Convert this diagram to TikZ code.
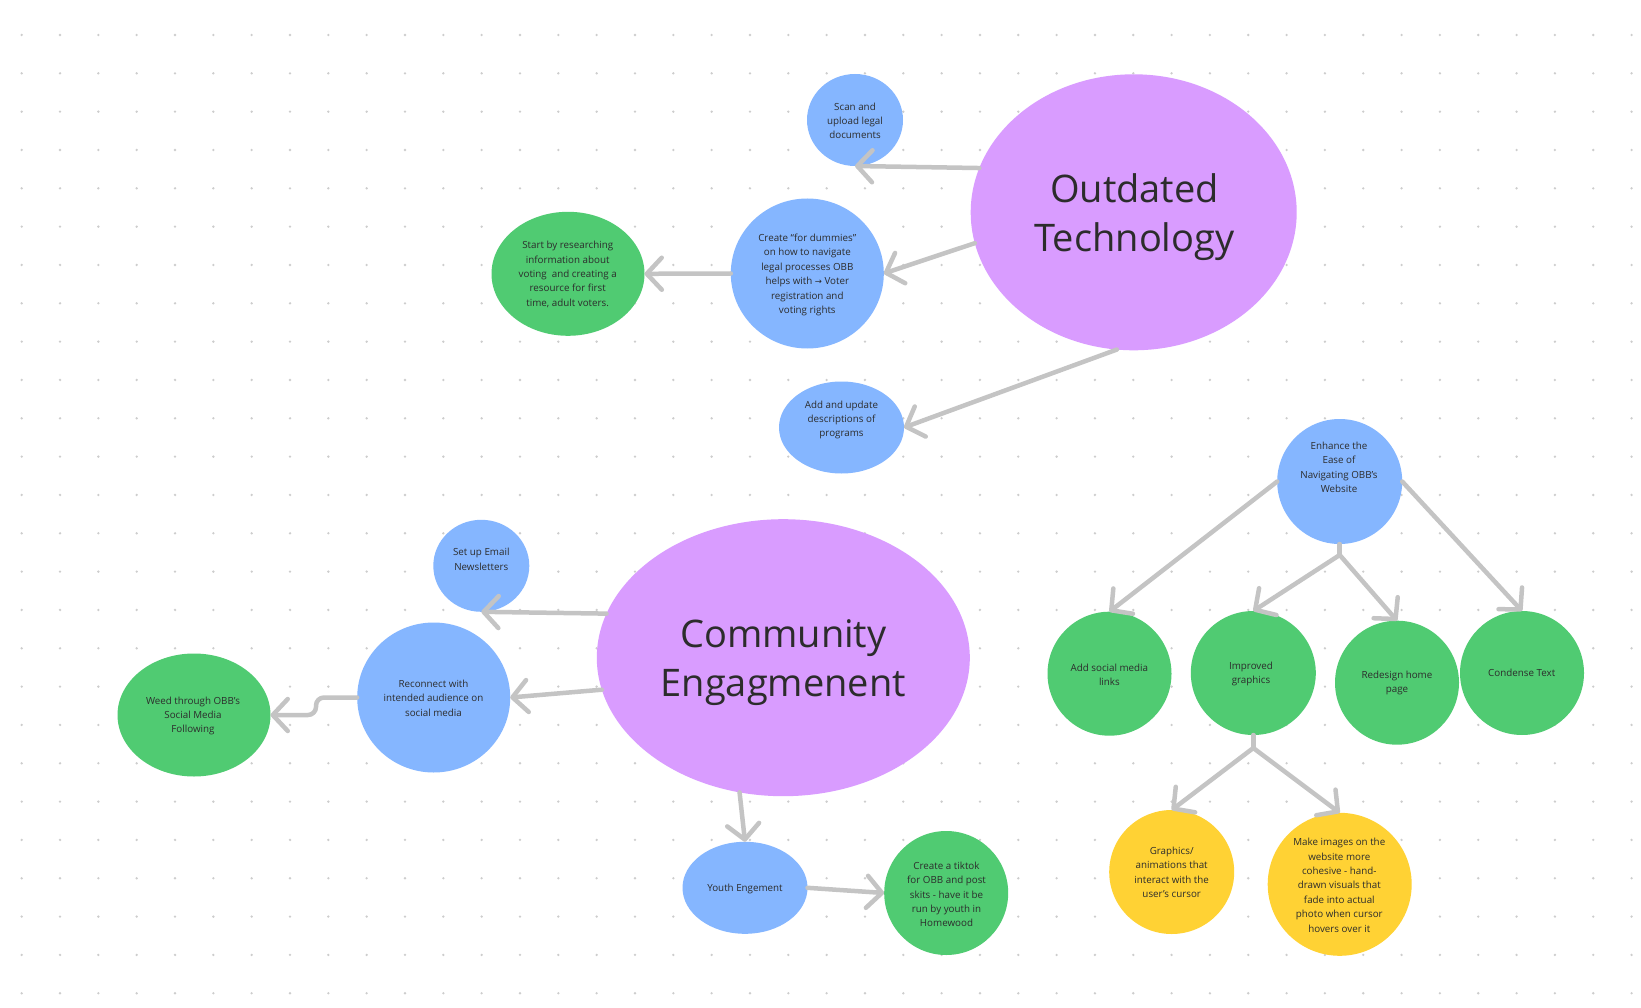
\documentclass[tikz,border=0pt]{standalone}
\usepackage{fontspec}
\setmainfont{Open Sans}
\newfontfamily\symf{DejaVu Sans}
\usetikzlibrary{shapes.geometric,arrows.meta}
\definecolor{purp}{HTML}{D99CFF}
\definecolor{blu}{HTML}{85B6FF}
\definecolor{grn}{HTML}{50CB72}
\definecolor{yel}{HTML}{FFD234}
\definecolor{lgray}{HTML}{C4C4C4}
\definecolor{dotc}{HTML}{CDCDCD}
\definecolor{ink}{HTML}{2C2C2C}
\tikzset{
  blob/.style={ellipse, inner sep=0pt, outer sep=0pt, draw=none},
  txt/.style={font=\fontsize{9.8}{14.4}\selectfont, align=center, text=ink, inner sep=0pt},
  head/.style={font=\fontsize{38}{49}\selectfont, align=center, text=ink, inner sep=0pt},
  conn/.style={draw=lgray, line width=4.5pt, line cap=round, line join=round},
  arr/.style={conn, -{Straight Barb[length=15pt, width=32pt, round]}},
}
\begin{document}
\begin{tikzpicture}[x=1pt, y=-1pt]
\useasboundingbox (0,0) rectangle (1641,1008);
\fill[white] (0,0) rectangle (1641,1008);
\foreach \i in {0,...,42}{
  \foreach \j in {0,...,25}{
    \fill[dotc] ({21.7+38.33*\i},{35+38.33*\j}) circle (1.3);
  }
}
% shapes
\node[blob, fill=purp, minimum width=326pt, minimum height=276pt] (ot) at (1133.7,212.3) {};
\node[blob, fill=purp, minimum width=373pt, minimum height=277pt] (ce) at (783.3,657.7) {};
\node[blob, fill=blu, minimum width=96pt, minimum height=92pt] (scan) at (855,120) {};
\node[blob, fill=blu, minimum width=153pt, minimum height=150pt] (dum) at (807.3,273.5) {};
\node[blob, fill=grn, minimum width=153pt, minimum height=124pt] (start) at (568,273.8) {};
\node[blob, fill=blu, minimum width=125pt, minimum height=92pt] (addup) at (841.5,427.5) {};
\node[blob, fill=blu, minimum width=96pt, minimum height=92pt] (email) at (481.3,565.8) {};
\node[blob, fill=blu, minimum width=153pt, minimum height=150pt] (recon) at (433.7,697.5) {};
\node[blob, fill=grn, minimum width=153pt, minimum height=123pt] (weed) at (194,715) {};
\node[blob, fill=blu, minimum width=125pt, minimum height=92pt] (youth) at (745,887.8) {};
\node[blob, fill=grn, minimum width=124pt, minimum height=124pt] (tiktok) at (946.2,893) {};
\node[blob, fill=blu, minimum width=125pt, minimum height=125pt] (enh) at (1339.7,481.5) {};
\node[blob, fill=grn, minimum width=124pt, minimum height=124pt] (social) at (1109.5,673.7) {};
\node[blob, fill=grn, minimum width=125pt, minimum height=124pt] (impr) at (1253.3,673) {};
\node[blob, fill=grn, minimum width=124pt, minimum height=124pt] (redes) at (1397,682.7) {};
\node[blob, fill=grn, minimum width=124pt, minimum height=124pt] (cond) at (1522,673) {};
\node[blob, fill=yel, minimum width=125pt, minimum height=124pt] (gfx) at (1171.7,872) {};
\node[blob, fill=yel, minimum width=144pt, minimum height=143pt] (mkimg) at (1339.7,884.3) {};
% texts
\node[head] (ot-t) at (1134.5,217) {Outdated\\Technology};
\node[head] (ce-t) at (783.3,662.5) {Community\\Engagmenent};
\node[txt] (scan-t) at (855,120.8) {Scan and\\upload legal\\documents};
\node[txt] (dum-t) at (807.3,275) {Create “for dummies”\\on how to navigate\\legal processes OBB\\helps with {\symf\fontsize{8.5}{14.4}\selectfont →} Voter\\registration and\\voting rights};
\node[txt] (start-t) at (567.7,274.5) {Start by researching\\information about\\voting\ \ and creating a\\resource for first\\time, adult voters.};
\node[txt] (addup-t) at (841.5,420) {Add and update\\descriptions of\\programs};
\node[txt] (email-t) at (481.3,559.5) {Set up Email\\Newsletters};
\node[txt] (recon-t) at (433.5,698.3) {Reconnect with\\intended audience on\\social media};
\node[txt] (weed-t) at (193,716) {Weed through OBB’s\\Social Media\\Following};
\node[txt] (youth-t) at (745,889) {Youth Engement};
\node[txt] (tiktok-t) at (946.5,894.5) {Create a tiktok\\for OBB and post\\skits - have it be\\run by youth in\\Homewood};
\node[txt] (enh-t) at (1339,467.5) {Enhance the\\Ease of\\Navigating OBB’s\\Website};
\node[txt] (social-t) at (1109.4,674.7) {Add social media\\links};
\node[txt] (impr-t) at (1251,673.8) {Improved\\graphics};
\node[txt] (redes-t) at (1397,683) {Redesign home\\page};
\node[txt] (cond-t) at (1521.7,673) {Condense Text};
\node[txt] (gfx-t) at (1171.7,872.3) {Graphics/\\animations that\\interact with the\\user’s cursor};
\node[txt] (mkimg-t) at (1339.3,885.2) {Make images on the\\website more\\cohesive - hand-\\drawn visuals that\\fade into actual\\photo when cursor\\hovers over it};
% connectors
\draw[arr] (ot.164.6) -- (scan.south);
\draw[arr] (ot.191.7) -- (dum.east);
\draw[arr] (ot.263.2) -- (addup.east);
\draw[arr] (dum.west) -- (start.east);
\draw[arr] (ce.166.8) -- (email.south);
\draw[arr] (ce.190.4) -- (recon.east);
\draw[arr] (ce.252.5) -- (youth.north);
\draw[arr] (youth.east) -- (tiktok.west);
\draw[arr, rounded corners=8pt] (recon.west) -- (316,697.5) -- (316,715) -- (weed.east);
\path (enh.south) ++(0,11) coordinate (eb);
\path (impr.south) ++(0,13) coordinate (ib);
\draw[conn] (enh.south) -- (eb);
\draw[arr] (eb) -- (impr.north);
\draw[arr] (eb) -- (redes.north);
\draw[arr] (enh.west) -- (social.north);
\draw[arr] (enh.east) -- (cond.north);
\draw[conn] (impr.south) -- (ib);
\draw[arr] (ib) -- (gfx.north);
\draw[arr] (ib) -- (mkimg.north);
\end{tikzpicture}
\end{document}
